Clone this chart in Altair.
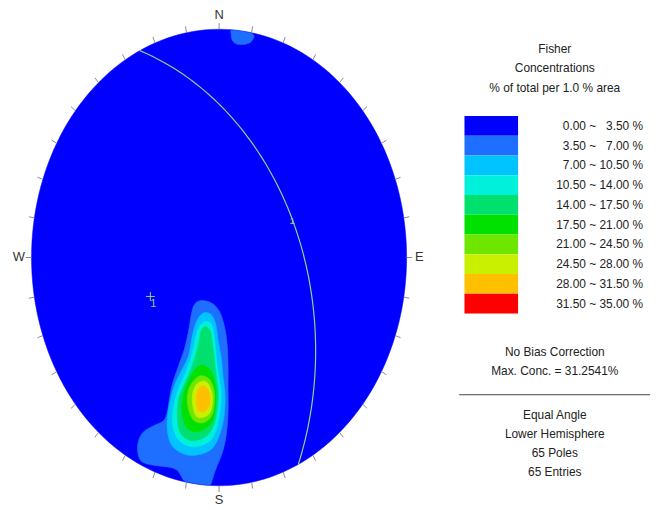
import numpy as np
import pandas as pd
import altair as alt

FONT = "Liberation Sans"

# ---------------- legend data ----------------
LEVEL_LABELS = ["0.00 ~ \u20073.50 %", "3.50 ~ \u20077.00 %", "7.00 ~ 10.50 %", "10.50 ~ 14.00 %",
                "14.00 ~ 17.50 %", "17.50 ~ 21.00 %", "21.00 ~ 24.50 %", "24.50 ~ 28.00 %",
                "28.00 ~ 31.50 %", "31.50 ~ 35.00 %"]
LEVEL_COLORS = ["#0000FF", "#1E6EFF", "#00C3FF", "#00F0DC", "#00E06E",
                "#00E100", "#6EE600", "#C8F000", "#FFC000", "#FF0000"]
TITLE_LINES = ["Fisher", "Concentrations", "% of total per 1.0 % area"]
FOOTER_TOP = ["No Bias Correction", "Max. Conc. = 31.2541%"]
FOOTER_BOTTOM = ["Equal Angle", "Lower Hemisphere", "65 Poles", "65 Entries"]

# ---------------- stereonet data ----------------
# plane (dip direction / dip) and its pole (trend / plunge), degrees
PLANE_DIP_DIRECTION = 65
PLANE_DIP = 44
POLE_TREND = 245
POLE_PLUNGE = 46
TICK_AZIMUTHS = list(range(0, 360, 10))
CARDINALS = ["N", "E", "S", "W"]
CARDINAL_AZ = [0, 90, 180, 270]

# contour outlines in net coordinates (u = east, v = north, primitive radius 1)
C2_MAIN = [(-0.101, -0.189), (-0.042, -0.198), (0.000, -0.233), (0.026, -0.293), (0.042, -0.372),
           (0.048, -0.467), (0.048, -0.576), (0.048, -0.685), (0.037, -0.785), (0.016, -0.859),
           (-0.016, -0.924), (-0.037, -0.976), (-0.048, -0.996), (-0.085, -0.994), (-0.138, -0.988),
           (-0.185, -0.978), (-0.201, -0.959), (-0.222, -0.933), (-0.259, -0.920), (-0.323, -0.913),
           (-0.376, -0.906), (-0.418, -0.889), (-0.434, -0.850), (-0.429, -0.802), (-0.402, -0.763),
           (-0.349, -0.737), (-0.296, -0.715), (-0.275, -0.672), (-0.265, -0.620), (-0.249, -0.554),
           (-0.217, -0.476), (-0.185, -0.402), (-0.164, -0.328), (-0.148, -0.250), (-0.132, -0.207)]
C2_NORTH = [(0.064, 0.995), (0.101, 0.993), (0.143, 0.988), (0.180, 0.979), (0.185, 0.963),
            (0.164, 0.941), (0.127, 0.933), (0.090, 0.937), (0.069, 0.954), (0.064, 0.980)]
C3 = [(-0.074, -0.241), (-0.037, -0.254), (-0.016, -0.298), (-0.005, -0.363), (0.011, -0.437),
      (0.021, -0.520), (0.032, -0.607), (0.026, -0.698), (0.005, -0.772), (-0.032, -0.833),
      (-0.085, -0.859), (-0.148, -0.867), (-0.206, -0.854), (-0.254, -0.820), (-0.275, -0.763),
      (-0.275, -0.698), (-0.259, -0.620), (-0.233, -0.550), (-0.196, -0.489), (-0.164, -0.433),
      (-0.148, -0.367), (-0.132, -0.307), (-0.106, -0.259)]
C4 = [(-0.074, -0.280), (-0.042, -0.293), (-0.026, -0.346), (-0.016, -0.424), (-0.005, -0.502),
      (0.011, -0.589), (0.005, -0.672), (-0.011, -0.741), (-0.042, -0.798), (-0.095, -0.824),
      (-0.153, -0.828), (-0.206, -0.807), (-0.238, -0.767), (-0.249, -0.707), (-0.238, -0.637),
      (-0.217, -0.576), (-0.185, -0.520), (-0.159, -0.463), (-0.138, -0.402), (-0.122, -0.341),
      (-0.101, -0.298)]
C5 = [(-0.074, -0.302), (-0.048, -0.320), (-0.037, -0.367), (-0.026, -0.437), (-0.016, -0.515),
      (-0.005, -0.593), (-0.011, -0.667), (-0.026, -0.728), (-0.058, -0.776), (-0.106, -0.798),
      (-0.153, -0.802), (-0.196, -0.780), (-0.217, -0.741), (-0.222, -0.685), (-0.217, -0.628),
      (-0.196, -0.576), (-0.169, -0.528), (-0.143, -0.476), (-0.122, -0.420), (-0.106, -0.363),
      (-0.095, -0.320)]
C6 = [(-0.090, -0.472), (-0.053, -0.489), (-0.026, -0.533), (-0.016, -0.598), (-0.021, -0.663),
      (-0.037, -0.720), (-0.079, -0.754), (-0.132, -0.763), (-0.175, -0.741), (-0.196, -0.689),
      (-0.196, -0.628), (-0.180, -0.572), (-0.153, -0.524), (-0.122, -0.485)]
C7 = [(-0.079, -0.520), (-0.048, -0.537), (-0.026, -0.585), (-0.026, -0.646), (-0.042, -0.698),
      (-0.085, -0.724), (-0.132, -0.715), (-0.159, -0.676), (-0.169, -0.620), (-0.159, -0.572),
      (-0.132, -0.537), (-0.106, -0.520)]
C8 = [(-0.079, -0.541), (-0.053, -0.559), (-0.037, -0.598), (-0.037, -0.646), (-0.053, -0.685),
      (-0.090, -0.702), (-0.122, -0.694), (-0.138, -0.659), (-0.143, -0.611), (-0.132, -0.572),
      (-0.111, -0.550)]
C9 = [(-0.079, -0.563), (-0.058, -0.580), (-0.048, -0.615), (-0.053, -0.650), (-0.074, -0.672),
      (-0.101, -0.676), (-0.116, -0.659), (-0.122, -0.624), (-0.116, -0.589), (-0.101, -0.567)]

CONTOURS = [("c2_main", 1, C2_MAIN), ("c2_north", 1, C2_NORTH), ("c3", 2, C3), ("c4", 3, C4),
            ("c5", 4, C5), ("c6", 5, C6), ("c7", 6, C7), ("c8", 7, C8), ("c9", 8, C9)]

# ---------------- tables ----------------
rows = []
for name, lev, pts in CONTOURS:
    for i, (u, v) in enumerate(pts):
        rows.append({"poly": name, "level": lev, "i": i, "u": u, "v": v})
cont_df = pd.DataFrame(rows)

# great circle of the plane (stereographic, lower hemisphere)
s = np.radians(PLANE_DIP_DIRECTION - 90)
dd = np.radians(PLANE_DIP_DIRECTION)
dp = np.radians(PLANE_DIP)
t = np.radians(np.arange(0, 181, 2))
S = np.array([np.sin(s), np.cos(s), 0.0])
D = np.array([np.cos(dp) * np.sin(dd), np.cos(dp) * np.cos(dd), np.sin(dp)])
L = np.outer(np.cos(t), S) + np.outer(np.sin(t), D)
plunge = np.arcsin(np.clip(L[:, 2], -1, 1))
trend = np.arctan2(L[:, 0], L[:, 1])
r = np.tan(np.pi / 4 - plunge / 2)
gc_df = pd.DataFrame({"t": np.degrees(t), "u": r * np.sin(trend), "v": r * np.cos(trend)})

prim_df = pd.DataFrame({"az": list(range(0, 361, 2))})
tick_df = pd.DataFrame({"az": TICK_AZIMUTHS})
card_df = pd.DataFrame({"name": CARDINALS, "az": CARDINAL_AZ})
pole_df = pd.DataFrame({"trend": [POLE_TREND], "plunge": [POLE_PLUNGE], "lab": ["1"]})
plane_df = pd.DataFrame({"trend": [PLANE_DIP_DIRECTION], "plunge": [PLANE_DIP], "lab": ["1"]})

# ---------------- scales ----------------
XS = alt.Scale(domain=[-1.0989, 2.3032], nice=False, zero=False)
YS = alt.Scale(domain=[-1.0674, 1.0630], nice=False, zero=False)


def ux(f):
    return alt.X(f, type="quantitative", scale=XS, axis=None)


def vy(f):
    return alt.Y(f, type="quantitative", scale=YS, axis=None)


GREEN = "#8CD68C"

primitive = alt.Chart(prim_df).transform_calculate(
    u="sin(datum.az*PI/180)", v="cos(datum.az*PI/180)"
).mark_line(fill=LEVEL_COLORS[0], stroke=LEVEL_COLORS[0], strokeWidth=0.5,
            interpolate="linear-closed").encode(x=ux("u"), y=vy("v"), order="az:Q")

layers = [primitive]
for name, lev, pts in CONTOURS:
    col = LEVEL_COLORS[lev]
    layers.append(
        alt.Chart(cont_df).transform_filter(alt.datum.poly == name).mark_line(
            fill=col, stroke=col, strokeWidth=0.6, interpolate="cardinal-closed"
        ).encode(x=ux("u"), y=vy("v"), order="i:Q")
    )

great_circle = alt.Chart(gc_df).mark_line(color=GREEN, strokeWidth=1.2).encode(
    x=ux("u"), y=vy("v"), order="t:Q")

ticks = alt.Chart(tick_df).transform_calculate(
    u1="sin(datum.az*PI/180)", v1="cos(datum.az*PI/180)",
    u2="1.03*sin(datum.az*PI/180)", v2="1.028*cos(datum.az*PI/180)"
).mark_rule(color="#8a8a8a", strokeWidth=1).encode(
    x=ux("u1"), y=vy("v1"), x2="u2:Q", y2="v2:Q")

cards = alt.Chart(card_df).transform_calculate(
    u="1.068*sin(datum.az*PI/180)", v="1.062*cos(datum.az*PI/180)"
).mark_text(font=FONT, fontSize=13, color="#333333", align="center", baseline="middle").encode(
    x=ux("u"), y=vy("v"), text="name:N")

pole_base = alt.Chart(pole_df).transform_calculate(
    r="tan(PI/4 - datum.plunge*PI/360)"
).transform_calculate(
    u="datum.r*sin(datum.trend*PI/180)", v="datum.r*cos(datum.trend*PI/180)"
)
pole_pt = pole_base.mark_point(shape="M -1 0 L 1 0 M 0 -1 L 0 1", size=80, filled=False,
                               color=GREEN, strokeWidth=1, opacity=1).encode(x=ux("u"), y=vy("v"))
pole_lab = pole_base.mark_text(font=FONT, fontSize=11, color=GREEN, dx=3, dy=8).encode(
    x=ux("u"), y=vy("v"), text="lab:N")

plane_lab = alt.Chart(plane_df).transform_calculate(
    r="tan(PI/4 - datum.plunge*PI/360)"
).transform_calculate(
    u="datum.r*sin(datum.trend*PI/180)", v="datum.r*cos(datum.trend*PI/180)"
).mark_text(font=FONT, fontSize=10, color=GREEN, dx=1, dy=5).encode(
    x=ux("u"), y=vy("v"), text="lab:N")

stereo = alt.layer(*layers, great_circle, ticks, cards, pole_pt, pole_lab, plane_lab)

# ---------------- legend panel ----------------
LX = alt.Scale(domain=[13, 656], nice=False, zero=False)
LY = alt.Scale(domain=[-5.626, 18.997], reverse=True, nice=False, zero=False)

leg_df = pd.DataFrame({"label": LEVEL_LABELS, "k": list(range(len(LEVEL_LABELS)))})
boxes = alt.Chart(leg_df).transform_calculate(
    y0="datum.k - 0.5", y1="datum.k + 0.5", bx0="468", bx1="522"
).mark_rect().encode(
    x=alt.X("bx0:Q", scale=LX, axis=None), x2="bx1:Q",
    y=alt.Y("y0:Q", scale=LY, axis=None), y2="y1:Q",
    fill=alt.Fill("label:N", scale=alt.Scale(domain=LEVEL_LABELS, range=LEVEL_COLORS), legend=None),
)
labels = alt.Chart(leg_df).transform_calculate(tx="648").mark_text(
    font=FONT, fontSize=12, color="#222222", align="right", baseline="middle"
).encode(x=alt.X("tx:Q", scale=LX, axis=None), y=alt.Y("k:Q", scale=LY, axis=None), text="label:N")

text_df = pd.DataFrame({
    "txt": TITLE_LINES + FOOTER_TOP + FOOTER_BOTTOM,
    "row": [-3.90, -2.95, -1.92, 11.44, 12.40, 14.62, 15.60, 16.58, 17.54],
})
texts = alt.Chart(text_df).transform_calculate(tx="559").mark_text(
    font=FONT, fontSize=12, color="#222222", align="center", baseline="middle"
).encode(x=alt.X("tx:Q", scale=LX, axis=None), y=alt.Y("row:Q", scale=LY, axis=None), text="txt:N")

sep = alt.Chart(pd.DataFrame({"row": [13.61]})).transform_calculate(a="462.7", b="655").mark_rule(
    color="#444444", strokeWidth=1
).encode(x=alt.X("a:Q", scale=LX, axis=None), x2="b:Q", y=alt.Y("row:Q", scale=LY, axis=None))

legend_panel = alt.layer(boxes, labels, texts, sep)

chart = alt.layer(stereo, legend_panel).resolve_scale(
    x="independent", y="independent"
).properties(
    width=643, height=490,
    padding={"left": 5, "top": 5, "right": 5, "bottom": 5},
    autosize=alt.AutoSizeParams(type="none"),
    background="white",
).configure_view(strokeWidth=0, stroke="transparent")

chart.save("out.html", embed_options={"renderer": "svg", "actions": False})
